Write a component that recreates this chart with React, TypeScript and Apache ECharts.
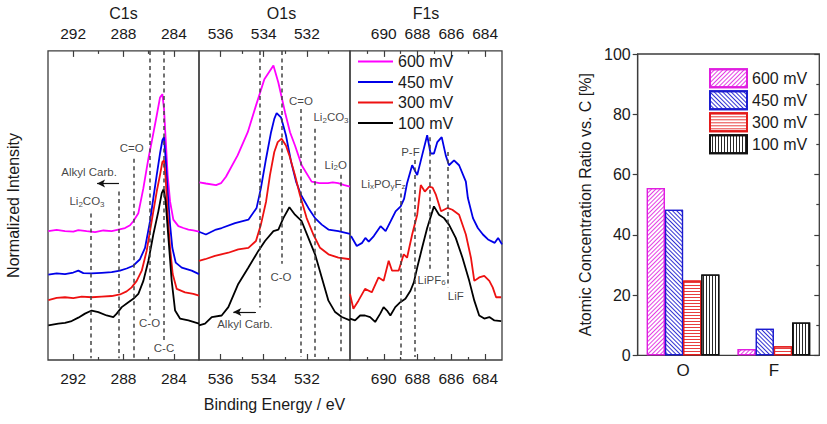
import { useEffect, useRef } from 'react';
import * as echarts from 'echarts';

type Pt = [number, number];

// Sweep potentials (legend order) and their colours
const voltages = ['600 mV', '450 mV', '300 mV', '100 mV'];
const lineColors = ['#ff00ff', '#0000e8', '#ee1111', '#000000'];

// C1s spectra: [binding energy (eV), normalized intensity (offset, a.u.)]
const c1s600: Pt[] = [[293.97,41.7],[293.31,42.1],[292.65,41.7],[291.99,41.5],[291.59,42.0],[290.93,41.7],[290.26,41.4],[289.60,41.9],[288.94,41.7],[288.41,42.2],[287.88,42.7],[287.48,43.6],[287.22,44.9],[286.82,47.5],[286.42,55.6],[286.02,65.2],[285.71,71.6],[285.36,79.1],[285.10,84.9],[284.91,86.0],[284.78,81.2],[284.65,71.6],[284.49,59.8],[284.30,51.3],[284.04,45.4],[283.64,43.3],[283.24,42.7],[282.84,42.2],[282.45,41.9],[282.0,41.5]];
const c1s450: Pt[] = [[293.97,27.6],[293.31,28.0],[292.65,27.8],[291.99,28.3],[291.59,28.9],[291.19,28.1],[290.53,28.0],[289.73,28.2],[288.94,28.4],[288.28,28.9],[287.75,29.6],[287.22,30.5],[286.69,32.6],[286.29,36.3],[285.89,44.9],[285.63,52.4],[285.36,59.8],[285.10,66.8],[284.91,71.1],[284.78,72.1],[284.65,65.2],[284.49,54.5],[284.30,43.8],[284.12,36.3],[283.85,31.5],[283.37,29.9],[282.58,28.9],[282.0,27.8]];
const c1s300: Pt[] = [[293.97,19.4],[293.31,20.1],[292.65,20.3],[291.99,20.0],[291.32,20.5],[290.53,20.3],[289.73,20.5],[288.94,20.7],[288.28,21.2],[287.75,22.2],[287.35,23.5],[286.95,25.6],[286.55,28.9],[286.16,35.3],[285.76,44.9],[285.36,54.5],[285.10,59.8],[284.91,64.1],[284.78,64.6],[284.65,58.8],[284.49,47.0],[284.30,36.3],[284.09,27.8],[283.77,23.0],[283.11,21.9],[282.45,21.4],[282.0,20.8]];
const c1s100: Pt[] = [[293.97,11.2],[293.18,11.8],[292.65,12.0],[292.12,12.6],[291.59,13.7],[291.06,15.0],[290.53,16.0],[290.0,15.5],[289.34,14.4],[288.81,13.9],[288.54,15.0],[288.14,17.1],[287.61,18.7],[287.22,19.8],[286.82,21.4],[286.42,25.6],[286.02,32.1],[285.63,40.6],[285.23,48.1],[284.96,54.0],[284.81,55.3],[284.65,51.3],[284.43,39.5],[284.17,25.6],[283.90,16.0],[283.51,13.4],[282.84,12.8],[282.0,11.8]];

// O1s spectra
const o1s600: Pt[] = [[536.98,57.5],[536.68,57.1],[536.21,56.6],[535.98,57.2],[535.75,59.3],[535.21,66.2],[534.74,73.7],[534.36,82.3],[533.97,90.8],[533.55,95.3],[533.32,89.7],[533.01,80.1],[532.78,73.7],[532.55,69.4],[532.24,63.0],[531.78,57.7],[531.42,57.2],[531.02,57.2],[530.80,57.5],[530.55,57.2],[530.26,56.6],[530.0,56.1]];
const o1s450: Pt[] = [[537.0,41.5],[536.68,40.6],[536.21,42.2],[535.95,42.7],[535.33,44.3],[534.71,45.4],[534.33,49.2],[534.13,55.6],[533.89,65.2],[533.66,73.7],[533.51,78.0],[533.40,79.9],[533.20,78.5],[532.97,72.7],[532.73,64.1],[532.50,57.7],[532.27,53.4],[531.93,49.2],[531.62,45.9],[531.31,43.8],[531.0,42.2],[530.54,41.7],[530.0,40.8]];
const o1s300: Pt[] = [[537.0,32.1],[536.72,32.6],[536.26,33.7],[535.64,34.7],[535.18,35.8],[534.71,36.3],[534.36,38.5],[534.13,43.8],[533.89,51.3],[533.71,59.8],[533.51,67.3],[533.35,70.5],[533.17,71.6],[532.97,69.4],[532.81,66.2],[532.55,59.8],[532.32,53.4],[532.01,45.9],[531.70,40.6],[531.39,36.3],[531.0,34.2],[530.54,33.1],[530.0,32.6]];
const o1s100: Pt[] = [[537.0,11.2],[536.72,11.8],[536.41,13.9],[535.95,14.4],[535.64,17.1],[535.18,24.6],[534.71,29.9],[534.25,35.3],[533.94,38.5],[533.55,41.7],[533.32,42.2],[533.09,45.9],[532.81,49.4],[532.55,47.0],[532.24,44.9],[531.93,39.5],[531.62,34.2],[531.31,26.7],[531.0,19.2],[530.69,15.5],[530.38,13.9],[530.0,12.8]];

// F1s spectra
const f1s600: Pt[] = [];
const f1s450: Pt[] = [[691.94,40.1],[691.60,36.9],[691.28,37.9],[691.09,39.5],[690.89,38.3],[690.59,40.1],[690.19,43.3],[689.89,41.7],[689.59,44.9],[689.30,48.1],[689.0,49.7],[688.80,52.1],[688.62,57.2],[688.32,63.0],[688.02,59.8],[687.73,66.2],[687.43,72.7],[687.23,66.8],[687.03,66.8],[686.83,70.5],[686.57,72.1],[686.33,66.2],[686.14,63.0],[685.84,64.6],[685.54,63.0],[685.14,57.7],[685.02,52.4],[684.72,45.9],[684.43,42.7],[684.13,40.6],[683.83,39.0],[683.43,37.9],[683.23,39.5],[683.0,37.4]];
const f1s300: Pt[] = [[692.0,21.4],[691.80,16.6],[691.50,19.2],[691.11,23.0],[690.71,21.9],[690.31,26.7],[690.01,25.6],[689.71,32.1],[689.51,28.9],[689.12,28.9],[688.82,34.2],[688.62,33.1],[688.32,40.6],[688.02,47.0],[687.81,56.6],[687.57,54.5],[687.31,56.1],[687.11,55.8],[686.91,53.4],[686.61,48.1],[686.23,49.2],[685.94,48.6],[685.54,47.0],[685.14,40.6],[684.84,33.1],[684.64,25.6],[684.35,26.7],[684.05,27.2],[683.75,25.6],[683.55,23.5],[683.35,20.3],[683.05,20.3]];
const f1s100: Pt[] = [[692.0,13.4],[691.70,12.8],[691.40,14.4],[691.11,14.4],[690.81,13.9],[690.51,12.3],[690.21,15.0],[690.01,17.1],[689.81,16.0],[689.61,14.4],[689.32,17.1],[689.02,18.7],[688.72,19.8],[688.42,22.4],[688.22,25.1],[688.02,29.9],[687.73,36.3],[687.43,42.7],[687.03,49.7],[686.73,47.0],[686.43,45.9],[686.14,43.8],[685.74,39.5],[685.34,33.1],[684.94,25.6],[684.64,19.2],[684.35,14.4],[684.05,13.4],[683.75,13.9],[683.45,12.8],[683.05,12.6]];

// Tick values for the binding-energy axes
const c1sLabels = [284, 288, 292];
const c1sMinors = [286, 290];
const o1sLabels = [532, 534, 536];
const o1sMinors = [531, 533, 535];
const f1sLabels = [684, 686, 688, 690];
const f1sMinors = [685, 687, 689, 691];

// Component reference lines: energy, upper and lower intensity
const c1sGuides = [[290.58, 47.4, 0.6], [288.36, 54.5, 0.6], [287.2, 65.1, 0.6], [285.95, 100, 14.4], [284.8, 100, 6.4]];
const o1sGuides = [[534.2, 100, 17.0], [533.17, 100, 31.1], [532.27, 81.2, 1.0], [531.65, 74.8, 1.0], [530.42, 59.9, 2.2]];
const f1sGuides = [[689.0, 53.9, 0.3], [688.15, 64.7, 1.0], [687.27, 72.1, 28.8], [686.2, 67.3, 23.5]];

// Component names placed at [energy, intensity]
const c1sNotes: [string, number, number][] = [['C=O', 287.35, 68.6], ['Alkyl Carb.', 290.74, 60.9], ['Li{s|2}CO{s|3}', 290.9, 51.3], ['C-O', 285.93, 11.9], ['C-C', 284.78, 3.8]];
const o1sNotes: [string, number, number][] = [['C=O', 532.27, 83.7], ['Li{s|2}CO{s|3}', 530.88, 78.5], ['Li{s|2}O', 530.66, 63.1], ['C-O', 533.2, 27.0], ['Alkyl Carb.', 534.87, 11.5]];
const f1sNotes: [string, number, number][] = [['P-F', 688.42, 67.3], ['Li{s|x}PO{s|y}F{s|z}', 690.03, 57.1], ['LiPF{s|6}', 687.17, 26.0], ['LiF', 685.74, 20.8]];

// Shift arrows: from energy, to energy, intensity
const c1sArrows = [[288.36, 290.1, 57.1]];
const o1sArrows = [[534.36, 535.41, 15.5]];
const f1sArrows: number[][] = [];

// Atomic concentration ratio vs. C [%]
const ratioElements = ['O', 'F'];
const ratio600 = [55.5, 2.1];
const ratio450 = [48.3, 8.8];
const ratio300 = [24.8, 3.0];
const ratio100 = [26.8, 10.9];

const FONT = '"Liberation Sans", Arial, Helvetica, sans-serif';
const INK = '#1a1a1a';
const FRAME = '#3c3c3c';

const panels = [
  { title: 'C1s', min: 282, max: 294, labels: c1sLabels, minors: c1sMinors, curves: [c1s600, c1s450, c1s300, c1s100], guides: c1sGuides, notes: c1sNotes, arrows: c1sArrows, titlePad: 0 },
  { title: 'O1s', min: 530, max: 537, labels: o1sLabels, minors: o1sMinors, curves: [o1s600, o1s450, o1s300, o1s100], guides: o1sGuides, notes: o1sNotes, arrows: o1sArrows, titlePad: 14 },
  { title: 'F1s', min: 683, max: 692, labels: f1sLabels, minors: f1sMinors, curves: [f1s600, f1s450, f1s300, f1s100], guides: f1sGuides, notes: f1sNotes, arrows: f1sArrows, titlePad: 0 },
];
const panelBoxes = [
  { left: 48, width: 151 },
  { left: 199, width: 151 },
  { left: 350, width: 152 },
];

function spectraOption() {
  const tickLine = { color: FRAME, width: 1.2 };
  const grid = panelBoxes.map((b) => ({
    left: b.left, width: b.width, top: 47, height: 313,
    show: true, borderColor: FRAME, borderWidth: 1.3, backgroundColor: 'transparent',
  }));
  const xAxis: any[] = [];
  panels.forEach((p, i) => {
    const base = {
      gridIndex: i, type: 'value', min: p.min, max: p.max, inverse: true,
      axisLine: { show: false }, splitLine: { show: false },
    };
    xAxis.push({
      ...base, position: 'bottom',
      axisTick: { inside: true, length: 6, customValues: p.labels, lineStyle: tickLine },
      axisLabel: { customValues: p.labels, fontSize: 15.5, color: INK, margin: 10, fontFamily: FONT },
      name: i === 1 ? 'Binding Energy / eV' : '', nameLocation: 'middle', nameGap: 36,
      nameTextStyle: { fontSize: 16, color: INK, fontFamily: FONT },
    });
    xAxis.push({
      ...base, position: 'top',
      axisTick: { inside: true, length: 6, customValues: p.labels, lineStyle: tickLine },
      axisLabel: { customValues: p.labels, fontSize: 15.5, color: INK, margin: 9, fontFamily: FONT },
      name: p.title, nameLocation: 'middle', nameGap: 27,
      nameTextStyle: { fontSize: 16, color: INK, fontFamily: FONT, padding: [0, 0, 0, p.titlePad] },
    });
    xAxis.push({
      ...base, position: 'bottom',
      axisTick: { inside: true, length: 3, customValues: p.minors, lineStyle: tickLine },
      axisLabel: { show: false },
    });
    xAxis.push({
      ...base, position: 'top',
      axisTick: { inside: true, length: 3, customValues: p.minors, lineStyle: tickLine },
      axisLabel: { show: false },
    });
  });
  const yAxis = panels.map((_, i) => ({
    gridIndex: i, type: 'value', min: 0, max: 100, show: i === 0,
    axisLine: { show: false }, axisTick: { show: false }, axisLabel: { show: false }, splitLine: { show: false },
    name: i === 0 ? 'Normalized Intensity' : '', nameLocation: 'middle', nameGap: 27,
    nameTextStyle: { fontSize: 16, color: INK, fontFamily: FONT },
  }));
  const series: any[] = [];
  panels.forEach((p, i) => {
    series.push({
      type: 'scatter', xAxisIndex: 4 * i, yAxisIndex: i, symbolSize: 0, silent: true, z: 2,
      data: p.notes.map(([text, e, v]) => ({ value: [e, v], label: { formatter: text } })),
      label: {
        show: true, position: 'inside', fontSize: 11.5, color: '#111', fontFamily: FONT,
        rich: { s: { fontSize: 8, padding: [6, 0, 0, 0], color: '#111', fontFamily: FONT } },
      },
      markLine: {
        silent: true, animation: false, symbol: ['none', 'none'], label: { show: false },
        lineStyle: { type: [4, 3.5], color: '#444', width: 1.5 },
        emphasis: { disabled: true },
        data: [
          ...p.guides.map(([e, top, bottom]) => [{ coord: [e, top] }, { coord: [e, bottom] }]),
          ...p.arrows.map(([from, to, v]) => [
            { coord: [from, v], symbol: 'none', lineStyle: { type: 'solid', color: '#111', width: 1.2 } },
            { coord: [to, v], symbol: 'arrow', symbolSize: [6, 8], lineStyle: { type: 'solid', color: '#111', width: 1.2 } },
          ]),
        ],
      },
    });
    p.curves.forEach((c, k) => {
      if (!c.length) return;
      series.push({
        type: 'line', name: voltages[k], xAxisIndex: 4 * i, yAxisIndex: i, data: c,
        symbol: 'none', silent: true, z: 3,
        lineStyle: { width: 1.8, color: lineColors[k] }, itemStyle: { color: lineColors[k] },
      });
    });
  });
  return {
    animation: false,
    textStyle: { fontFamily: FONT },
    grid, xAxis, yAxis, series,
    legend: {
      data: voltages, orient: 'vertical', left: 358, top: 53.5, padding: 0, icon: 'rect',
      itemWidth: 35, itemHeight: 2, itemGap: 4.5, selectedMode: false,
      textStyle: { fontSize: 16, color: INK, lineHeight: 16, fontFamily: FONT },
    },
  };
}

function ratioOption() {
  const tickLine = { color: FRAME, width: 1.2 };
  const barColors = ['#e01ee0', '#1c1cd0', '#e41b1b', '#111111'];
  const hatch = [
    { rotation: -Math.PI / 4, color: 'rgba(224,30,224,0.85)' },
    { rotation: Math.PI / 4, color: 'rgba(28,28,208,0.9)' },
    { rotation: 0, color: 'rgba(228,27,27,0.85)' },
    { rotation: Math.PI / 2, color: 'rgba(17,17,17,0.9)' },
  ];
  const values = [ratio600, ratio450, ratio300, ratio100];
  return {
    animation: false,
    textStyle: { fontFamily: FONT },
    grid: { left: 77.7, top: 54, width: 181.6, height: 301.3, show: true, borderColor: FRAME, borderWidth: 1.3 },
    xAxis: {
      type: 'category', data: ratioElements, axisTick: { show: false },
      axisLine: { lineStyle: tickLine },
      axisLabel: { fontSize: 17, color: INK, margin: 7, fontFamily: FONT },
    },
    yAxis: [
      {
        type: 'value', min: 0, max: 100, interval: 20, position: 'left',
        axisLine: { show: true, lineStyle: tickLine }, axisTick: { show: true, length: 5, lineStyle: tickLine },
        axisLabel: { fontSize: 16, color: INK, margin: 7, fontFamily: FONT }, splitLine: { show: false },
        name: 'Atomic Concentration Ratio vs. C [%]', nameLocation: 'middle', nameGap: 35,
        nameTextStyle: { fontSize: 16, color: INK, fontFamily: FONT },
      },
      {
        type: 'value', min: 0, max: 100, interval: 20, position: 'right',
        axisLine: { show: false }, axisTick: { show: true, inside: true, length: 5, lineStyle: tickLine },
        minorTick: { show: true, splitNumber: 2, length: 3, lineStyle: tickLine },
        axisLabel: { show: false }, splitLine: { show: false }, minorSplitLine: { show: false },
      },
    ],
    legend: {
      data: voltages, orient: 'vertical', left: 149, top: 68.3, padding: 0, icon: 'rect',
      itemWidth: 37, itemHeight: 18, itemGap: 2, selectedMode: false,
      textStyle: { fontSize: 16, color: INK, lineHeight: 18, fontFamily: FONT },
    },
    series: voltages.map((v, k) => ({
      type: 'bar', name: v, data: values[k], barGap: '0%', barCategoryGap: '20%', silent: true,
      itemStyle: {
        color: '#ffffff', borderColor: barColors[k], borderWidth: 1.2,
        decal: {
          symbol: 'rect', symbolSize: 1, dashArrayX: [1, 0], dashArrayY: [1, 2],
          rotation: hatch[k].rotation, color: hatch[k].color,
        },
      },
    })),
  };
}

export default function App() {
  const leftRef = useRef<HTMLDivElement>(null);
  const rightRef = useRef<HTMLDivElement>(null);

  useEffect(() => {
    document.body.style.margin = '0';
    const left = echarts.init(leftRef.current!, undefined, { renderer: 'svg' });
    const right = echarts.init(rightRef.current!, undefined, { renderer: 'svg' });
    left.setOption(spectraOption() as any);
    right.setOption(ratioOption() as any);
    return () => {
      left.dispose();
      right.dispose();
    };
  }, []);

  return (
    <div style={{ position: 'relative', width: 827, height: 424, background: '#ffffff' }}>
      <div ref={leftRef} style={{ position: 'absolute', left: 0, top: 0, width: 560, height: 424 }} />
      <div ref={rightRef} style={{ position: 'absolute', left: 560, top: 0, width: 267, height: 424 }} />
    </div>
  );
}
